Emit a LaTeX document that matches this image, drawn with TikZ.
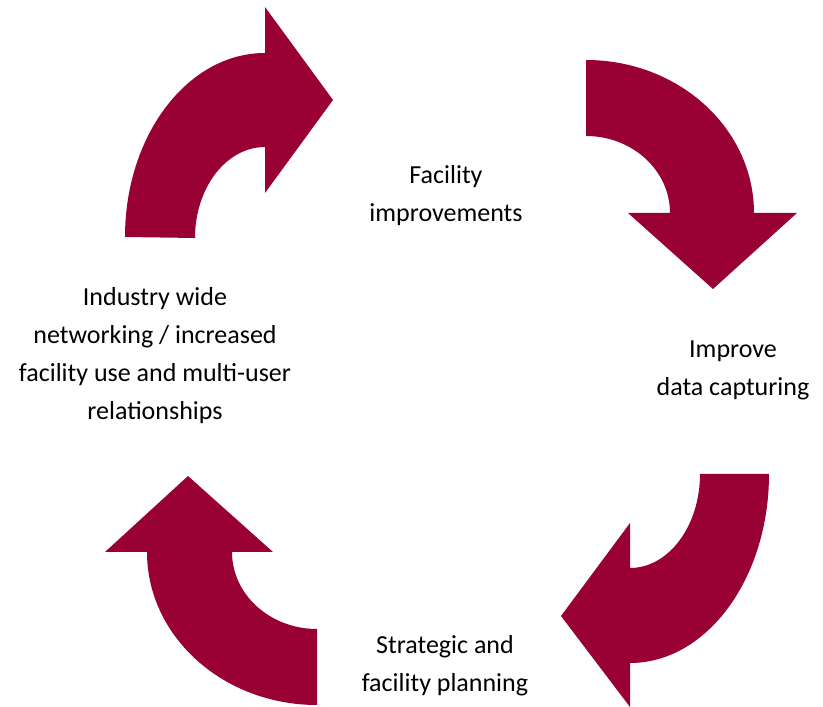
\documentclass[tikz,border=0pt]{standalone}
\usepackage{fontspec}
\setmainfont{Carlito}
\definecolor{maroon}{RGB}{153,0,51}
\begin{document}
\begin{tikzpicture}[x=1pt,y=1pt,
  arrowshape/.style={fill=maroon,draw=none},
  lbl/.style={align=center,font=\fontsize{26}{38}\selectfont,text=black,inner sep=0pt}]
\useasboundingbox (0,0) rectangle (823,707);
% arrow 1 (top-left)
\path[arrowshape] (125,470) arc[start angle=180,end angle=90,x radius=140pt,y radius=184pt]
  -- (265,700) -- (333,607) -- (265,514) -- (265,560)
  arc[start angle=90,end angle=180,x radius=70pt,y radius=91pt] -- cycle;
% arrow 2 (top-right)
\path[arrowshape] (586,647) arc[start angle=90,end angle=0,x radius=168pt,y radius=153pt]
  -- (797,494) -- (713,418) -- (628,494) -- (670,494)
  arc[start angle=0,end angle=90,x radius=84pt,y radius=77pt] -- cycle;
% arrow 3 (bottom-right)
\path[arrowshape] (769,233) arc[start angle=0,end angle=-90,x radius=139pt,y radius=189pt]
  -- (630,0) -- (561,91) -- (630,184) -- (630,139)
  arc[start angle=-90,end angle=0,x radius=70pt,y radius=94pt] -- cycle;
% arrow 4 (bottom-left)
\path[arrowshape] (317,2) arc[start angle=-90,end angle=-180,x radius=170pt,y radius=153pt]
  -- (105,155) -- (188,231) -- (273,155) -- (232,155)
  arc[start angle=-180,end angle=-90,x radius=85pt,y radius=77pt] -- cycle;
% labels
\node[lbl] (fi) at (446,511) {Facility\\improvements};
\node[lbl] (dc) at (733,337) {Improve\\data capturing};
\node[lbl] (sp) at (445,41) {Strategic and\\facility planning};
\node[lbl] (iw) at (155,351) {Industry wide\\networking / increased\\facility use and multi-user\\relationships};
\end{tikzpicture}
\end{document}
